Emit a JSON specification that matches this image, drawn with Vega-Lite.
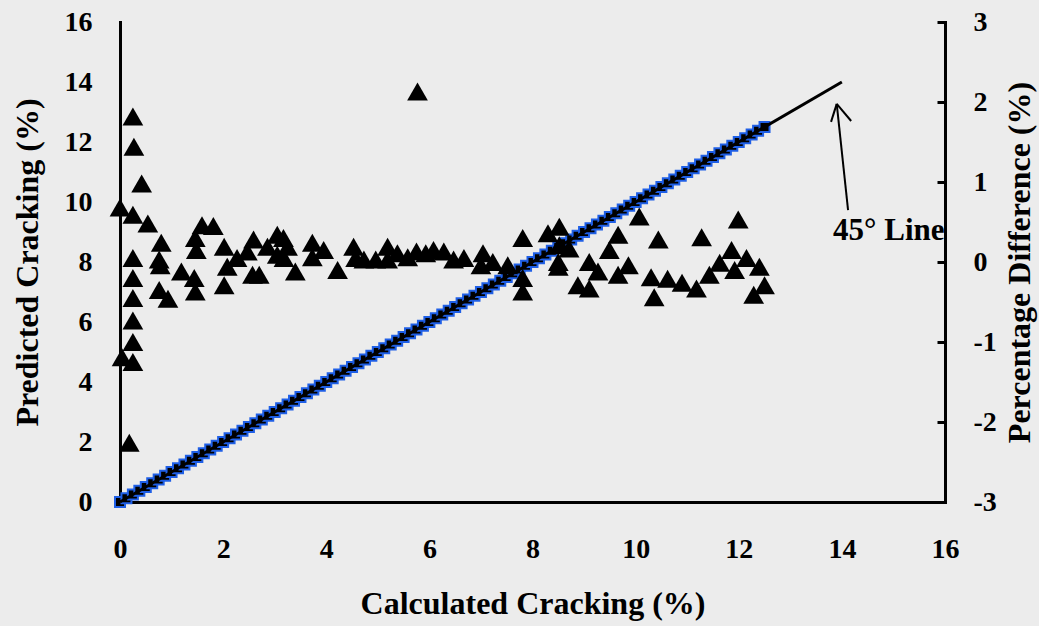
{
  "$schema": "https://vega.github.io/schema/vega-lite/v6.json",
  "width": 825,
  "height": 480,
  "autosize": {"type": "none"},
  "padding": {"left": 120, "top": 22, "right": 94, "bottom": 124},
  "background": "#ececec",
  "config": {
    "view": {"stroke": null},
    "font": "Liberation Serif",
    "axis": {
      "grid": false,
      "ticks": false,
      "domainColor": "black",
      "domainWidth": 3,
      "domainCap": "square",
      "labelFont": "Liberation Serif",
      "labelFontWeight": "bold",
      "labelFontSize": 28,
      "labelColor": "black",
      "labelFlush": false,
      "labelOverlap": false,
      "titleFont": "Liberation Serif",
      "titleFontWeight": "bold",
      "titleFontSize": 32,
      "titleColor": "black"
    }
  },
  "datasets": {
    "diag": [
      {"calc":0,"pred":0},{"calc":0.125,"pred":0.125},{"calc":0.25,"pred":0.25},{"calc":0.375,"pred":0.375},{"calc":0.5,"pred":0.5},{"calc":0.625,"pred":0.625},{"calc":0.75,"pred":0.75},{"calc":0.875,"pred":0.875},{"calc":1,"pred":1},{"calc":1.125,"pred":1.125},{"calc":1.25,"pred":1.25},{"calc":1.375,"pred":1.375},{"calc":1.5,"pred":1.5},{"calc":1.625,"pred":1.625},{"calc":1.75,"pred":1.75},{"calc":1.875,"pred":1.875},{"calc":2,"pred":2},{"calc":2.125,"pred":2.125},{"calc":2.25,"pred":2.25},{"calc":2.375,"pred":2.375},{"calc":2.5,"pred":2.5},{"calc":2.625,"pred":2.625},{"calc":2.75,"pred":2.75},{"calc":2.875,"pred":2.875},{"calc":3,"pred":3},{"calc":3.125,"pred":3.125},{"calc":3.25,"pred":3.25},{"calc":3.375,"pred":3.375},{"calc":3.5,"pred":3.5},{"calc":3.625,"pred":3.625},{"calc":3.75,"pred":3.75},{"calc":3.875,"pred":3.875},{"calc":4,"pred":4},{"calc":4.125,"pred":4.125},{"calc":4.25,"pred":4.25},{"calc":4.375,"pred":4.375},{"calc":4.5,"pred":4.5},{"calc":4.625,"pred":4.625},{"calc":4.75,"pred":4.75},{"calc":4.875,"pred":4.875},{"calc":5,"pred":5},{"calc":5.125,"pred":5.125},{"calc":5.25,"pred":5.25},{"calc":5.375,"pred":5.375},{"calc":5.5,"pred":5.5},{"calc":5.625,"pred":5.625},{"calc":5.75,"pred":5.75},{"calc":5.875,"pred":5.875},{"calc":6,"pred":6},{"calc":6.125,"pred":6.125},{"calc":6.25,"pred":6.25},{"calc":6.375,"pred":6.375},{"calc":6.5,"pred":6.5},{"calc":6.625,"pred":6.625},{"calc":6.75,"pred":6.75},{"calc":6.875,"pred":6.875},{"calc":7,"pred":7},{"calc":7.125,"pred":7.125},{"calc":7.25,"pred":7.25},{"calc":7.375,"pred":7.375},{"calc":7.5,"pred":7.5},{"calc":7.625,"pred":7.625},{"calc":7.75,"pred":7.75},{"calc":7.875,"pred":7.875},{"calc":8,"pred":8},{"calc":8.125,"pred":8.125},{"calc":8.25,"pred":8.25},{"calc":8.375,"pred":8.375},{"calc":8.5,"pred":8.5},{"calc":8.625,"pred":8.625},{"calc":8.75,"pred":8.75},{"calc":8.875,"pred":8.875},{"calc":9,"pred":9},{"calc":9.125,"pred":9.125},{"calc":9.25,"pred":9.25},{"calc":9.375,"pred":9.375},{"calc":9.5,"pred":9.5},{"calc":9.625,"pred":9.625},{"calc":9.75,"pred":9.75},{"calc":9.875,"pred":9.875},{"calc":10,"pred":10},{"calc":10.125,"pred":10.125},{"calc":10.25,"pred":10.25},{"calc":10.375,"pred":10.375},{"calc":10.5,"pred":10.5},{"calc":10.625,"pred":10.625},{"calc":10.75,"pred":10.75},{"calc":10.875,"pred":10.875},{"calc":11,"pred":11},{"calc":11.125,"pred":11.125},{"calc":11.25,"pred":11.25},{"calc":11.375,"pred":11.375},{"calc":11.5,"pred":11.5},{"calc":11.625,"pred":11.625},{"calc":11.75,"pred":11.75},{"calc":11.875,"pred":11.875},{"calc":12,"pred":12},{"calc":12.125,"pred":12.125},{"calc":12.25,"pred":12.25},{"calc":12.375,"pred":12.375},{"calc":12.5,"pred":12.5}
    ],
    "line45": [{"calc":0,"pred":0},{"calc":14,"pred":14}],
    "arrow": [
      {"calc":14.12,"pred":9.73,"calc2":13.9,"pred2":13.27},
      {"calc":13.9,"pred":13.27,"calc2":13.79,"pred2":12.67},
      {"calc":13.9,"pred":13.27,"calc2":14.18,"pred2":12.7}
    ],
    "note": [{"calc":13.83,"pred":9.05,"label":"45° Line"}],
    "diff": [
      {"calc":0.25,"diff":1.82},{"calc":0.27,"diff":1.44},{"calc":0.42,"diff":0.98},{"calc":0.0,"diff":0.68},
      {"calc":0.25,"diff":0.59},{"calc":0.54,"diff":0.48},{"calc":0.8,"diff":0.24},{"calc":0.76,"diff":0.03},
      {"calc":0.78,"diff":-0.04},{"calc":0.25,"diff":0.05},{"calc":0.25,"diff":-0.2},{"calc":0.25,"diff":-0.45},
      {"calc":0.25,"diff":-0.73},{"calc":0.25,"diff":-1.0},{"calc":0.04,"diff":-1.19},{"calc":0.25,"diff":-1.25},
      {"calc":0.18,"diff":-2.26},{"calc":0.76,"diff":-0.35},{"calc":0.93,"diff":-0.46},{"calc":1.19,"diff":-0.12},
      {"calc":1.44,"diff":-0.2},{"calc":1.46,"diff":-0.37},{"calc":1.59,"diff":0.46},{"calc":1.46,"diff":0.3},
      {"calc":1.48,"diff":0.15},{"calc":1.81,"diff":0.45},{"calc":2.02,"diff":0.19},{"calc":2.02,"diff":-0.29},
      {"calc":2.08,"diff":-0.06},{"calc":2.27,"diff":0.05},{"calc":2.47,"diff":0.13},{"calc":2.59,"diff":0.28},
      {"calc":2.57,"diff":-0.16},{"calc":2.7,"diff":-0.16},{"calc":2.86,"diff":0.19},{"calc":3.05,"diff":0.34},
      {"calc":3.25,"diff":0.19},{"calc":3.05,"diff":0.09},{"calc":3.4,"diff":-0.12},{"calc":3.18,"diff":0.05},
      {"calc":3.17,"diff":0.3},{"calc":3.73,"diff":0.24},{"calc":3.73,"diff":0.06},{"calc":3.95,"diff":0.15},
      {"calc":4.22,"diff":-0.1},{"calc":4.53,"diff":0.19},{"calc":4.57,"diff":0.05},{"calc":4.73,"diff":0.03},
      {"calc":4.96,"diff":0.03},{"calc":5.19,"diff":0.19},{"calc":5.19,"diff":0.03},{"calc":5.38,"diff":0.11},
      {"calc":5.58,"diff":0.06},{"calc":5.75,"diff":0.13},{"calc":5.93,"diff":0.11},{"calc":6.08,"diff":0.15},
      {"calc":6.28,"diff":0.13},{"calc":6.47,"diff":0.03},{"calc":6.67,"diff":0.05},{"calc":7.04,"diff":0.11},
      {"calc":7.0,"diff":-0.04},{"calc":7.23,"diff":0.0},{"calc":7.52,"diff":-0.04},{"calc":7.81,"diff":0.3},
      {"calc":7.81,"diff":-0.2},{"calc":7.81,"diff":-0.37},{"calc":5.77,"diff":2.13},{"calc":8.3,"diff":0.36},
      {"calc":8.52,"diff":0.44},{"calc":8.52,"diff":0.21},{"calc":8.71,"diff":0.17},{"calc":8.5,"diff":0.0},
      {"calc":8.5,"diff":-0.06},{"calc":9.1,"diff":0.0},{"calc":8.88,"diff":-0.29},{"calc":9.1,"diff":-0.33},
      {"calc":9.27,"diff":-0.12},{"calc":9.66,"diff":0.34},{"calc":9.49,"diff":0.15},{"calc":9.66,"diff":-0.16},
      {"calc":9.86,"diff":-0.04},{"calc":10.07,"diff":0.57},{"calc":10.44,"diff":0.28},{"calc":10.3,"diff":-0.19},
      {"calc":10.36,"diff":-0.44},{"calc":10.62,"diff":-0.21},{"calc":10.9,"diff":-0.26},{"calc":11.18,"diff":-0.33},
      {"calc":11.28,"diff":0.31},{"calc":11.43,"diff":-0.16},{"calc":11.63,"diff":-0.01},{"calc":11.86,"diff":0.15},
      {"calc":11.92,"diff":-0.1},{"calc":11.99,"diff":0.53},{"calc":12.15,"diff":0.05},{"calc":12.4,"diff":-0.06},
      {"calc":12.5,"diff":-0.29},{"calc":12.29,"diff":-0.41}
    ]
  },
  "layer": [
    {
      "layer": [
        {
          "data": {"name": "diag"},
          "mark": {"type": "point", "shape": "square", "filled": true, "size": 100, "color": "black", "stroke": "#1f5fe6", "strokeWidth": 2, "opacity": 1},
          "encoding": {
            "x": {"field": "calc", "type": "quantitative", "title": "Calculated Cracking (%)",
                  "scale": {"domain": [0, 16], "nice": false, "zero": false},
                  "axis": {"values": [0, 2, 4, 6, 8, 10, 12, 14, 16], "labelPadding": 33, "titlePadding": 25}},
            "y": {"field": "pred", "type": "quantitative", "title": "Predicted Cracking (%)",
                  "scale": {"domain": [0, 16], "nice": false},
                  "axis": {"values": [0, 2, 4, 6, 8, 10, 12, 14, 16], "labelPadding": 28, "titlePadding": 20}}
          }
        },
        {
          "data": {"name": "line45"},
          "mark": {"type": "line", "color": "black", "strokeWidth": 3},
          "encoding": {
            "x": {"field": "calc", "type": "quantitative", "title": "Calculated Cracking (%)"},
            "y": {"field": "pred", "type": "quantitative", "title": "Predicted Cracking (%)"}
          }
        },
        {
          "data": {"name": "arrow"},
          "mark": {"type": "rule", "color": "black", "strokeWidth": 2},
          "encoding": {
            "x": {"field": "calc", "type": "quantitative", "title": "Calculated Cracking (%)"},
            "y": {"field": "pred", "type": "quantitative", "title": "Predicted Cracking (%)"},
            "x2": {"field": "calc2"},
            "y2": {"field": "pred2"}
          }
        },
        {
          "data": {"name": "note"},
          "mark": {"type": "text", "align": "left", "baseline": "middle", "font": "Liberation Serif", "fontWeight": "bold", "fontSize": 31, "color": "black"},
          "encoding": {
            "x": {"field": "calc", "type": "quantitative", "title": "Calculated Cracking (%)"},
            "y": {"field": "pred", "type": "quantitative", "title": "Predicted Cracking (%)"},
            "text": {"field": "label"}
          }
        }
      ]
    },
    {
      "data": {"name": "diff"},
      "mark": {"type": "point", "shape": "triangle-up", "filled": true, "size": 430, "color": "black", "opacity": 1},
      "encoding": {
        "x": {"field": "calc", "type": "quantitative", "title": "Calculated Cracking (%)"},
        "y": {"field": "diff", "type": "quantitative", "title": "Percentage Difference (%)",
              "scale": {"domain": [-3, 3], "nice": false, "zero": false},
              "axis": {"orient": "right", "values": [-3, -2, -1, 0, 1, 2, 3], "ticks": true, "tickSize": -8, "tickWidth": 3, "tickColor": "black",
                       "labelPadding": 36, "labelExpr": "replace(datum.label, '\u2212', '-')",
                       "titleAngle": 270, "titleBaseline": "top", "titlePadding": 8}}
      }
    }
  ],
  "resolve": {"scale": {"y": "independent"}, "axis": {"y": "independent"}}
}
